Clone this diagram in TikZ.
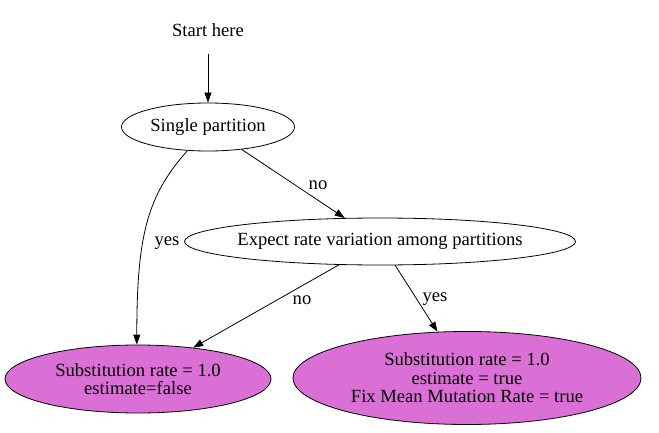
\documentclass[tikz,border=0pt]{standalone}
\usepackage{fontspec}
\setmainfont{Liberation Serif}
\usetikzlibrary{arrows.meta,shapes.geometric}
\definecolor{orchid}{RGB}{218,112,214}
\tikzset{
  box/.style={ellipse,draw,line width=0.8pt,inner sep=0pt,align=center,font=\fontsize{18.6}{18.4}\selectfont},
  leaf/.style={box,fill=orchid},
  lbl/.style={font=\fontsize{18.6}{20}\selectfont,inner sep=0pt},
  edge/.style={-{Triangle[length=10pt,width=7pt]},line width=0.8pt}
}
\begin{document}
\begin{tikzpicture}[line cap=round,line join=round,x=1pt,y=1pt]
  \useasboundingbox (0,0) rectangle (659,432);
  \node[lbl,minimum height=48pt] (start) at (208,402) {Start here};
  \node[box,minimum width=173pt,minimum height=48pt] (sp) at (208,305) {Single partition};
  \node[box,inner xsep=-5pt,minimum width=391pt,minimum height=47pt] (erv) at (380,190.5) {Expect rate variation among partitions};
  \node[leaf,minimum width=266pt,minimum height=68pt] (sub1) at (138,53) {Substitution rate = 1.0\\estimate=false};
  \node[leaf,minimum width=348pt,minimum height=93pt] (sub2) at (467,54) {Substitution rate = 1.0\\estimate = true\\Fix Mean Mutation Rate = true};
  \draw[edge] (start.south) -- (sp);
  \draw[edge] (sp.229) .. controls +(-40,-45) and +(0,110) .. (sub1.92);
  \draw[edge] (sp) -- (erv);
  \draw[edge] (erv) -- (sub1);
  \draw[edge] (erv) -- (sub2);
  \node[lbl] (l1) at (167,189) {yes};
  \node[lbl] (l2) at (318,247) {no};
  \node[lbl] (l3) at (302,132) {no};
  \node[lbl] (l4) at (435,133) {yes};
\end{tikzpicture}
\end{document}
